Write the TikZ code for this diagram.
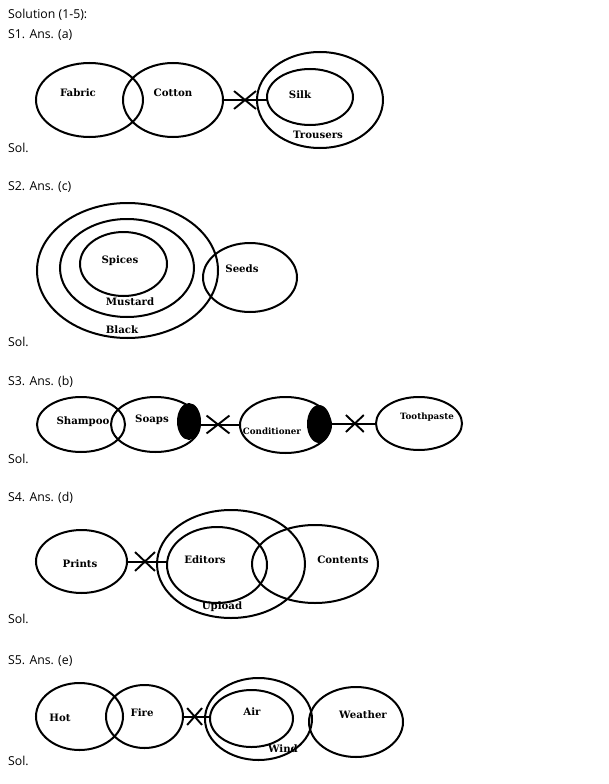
\documentclass[tikz,border=0pt]{standalone}
\usepackage{fontspec}
\setmainfont{Open Sans}
\newfontfamily\labfont{DejaVu Serif}
\usetikzlibrary{shapes.geometric,shapes.misc}
\tikzset{
  ell/.style={draw, ellipse, line width=2pt, inner sep=0pt, outer sep=0pt},
  blob/.style={fill=black, ellipse, inner sep=0pt, outer sep=0pt},
  conn/.style={line width=2pt},
  crossmark/.style={draw, cross out, line width=1.9pt, inner sep=0pt},
  lab/.style={inner sep=0pt, font=\labfont\fontsize{10.2}{12}\selectfont\bfseries},
  slab/.style={inner sep=0pt, font=\labfont\fontsize{8.7}{10}\selectfont\bfseries},
  txt/.style={anchor=west, inner sep=0pt, font=\fontsize{12.3}{14}\selectfont}
}
\newcommand{\vennE}[5]{\node[ell, minimum width=#4*2pt, minimum height=#5*2pt] (#1) at (#2,#3) {};}
\begin{document}
\begin{tikzpicture}[x=1pt,y=-1pt]
\useasboundingbox (0,0) rectangle (609,784);
% headings
\node[txt] (h0) at (8,15) {Solution (1-5):};
\node[txt] (h1) at (8,35) {S1. Ans. (a)};
\node[txt] (s1) at (8,148) {Sol.};
\node[txt] (h2) at (8,187) {S2. Ans. (c)};
\node[txt] (s2) at (8,342) {Sol.};
\node[txt] (h3) at (8,382) {S3. Ans. (b)};
\node[txt] (s3) at (8,459) {Sol.};
\node[txt] (h4) at (8,498) {S4. Ans. (d)};
\node[txt] (s4) at (8,619) {Sol.};
\node[txt] (h5) at (8,661) {S5. Ans. (e)};
\node[txt] (s5) at (8,761) {Sol.};
% S1
\vennE{fabric}{89.5}{100}{53.5}{37}
\vennE{cotton}{173}{100}{50}{37}
\vennE{trousers}{320}{100}{63}{48}
\vennE{silk}{310}{97}{43}{28}
\draw[conn] (cotton.east) -- node[crossmark, minimum width=20pt, minimum height=16pt] (x1) {} (cotton.east -| silk.west);
\node[lab] (tFabric) at (78,93) {Fabric};
\node[lab] (tCotton) at (173,93) {Cotton};
\node[lab] (tSilk) at (300,95) {Silk};
\node[lab] (tTrousers) at (318,135) {Trousers};
% S2
\vennE{black}{127.5}{270.5}{90.5}{67.5}
\vennE{mustard}{127}{268}{67}{49}
\vennE{spices}{123.5}{264}{43.5}{32}
\vennE{seeds}{250}{277.5}{47}{34.5}
\node[lab] (tSpices) at (120,261) {Spices};
\node[lab] (tSeeds) at (242,269) {Seeds};
\node[lab] (tMustard) at (130,302) {Mustard};
\node[lab] (tBlack) at (122,330) {Black};
% S3
\vennE{shampoo}{81}{424.5}{44}{27.5}
\vennE{soaps}{155.5}{424.5}{44.5}{27.5}
\vennE{cond}{285.5}{425}{45.5}{28}
\vennE{tooth}{419}{423.5}{43}{26.5}
\node[blob, minimum width=24pt, minimum height=37pt] (b1) at (189,421.5) {};
\node[blob, minimum width=24pt, minimum height=38pt] (b2) at (319,424) {};
\draw[conn] (soaps.east) -- node[crossmark, minimum width=21pt, minimum height=16pt, pos=0.45] (x2) {} (soaps.east -| cond.west);
\draw[conn] (b2.east |- tooth.west) -- node[crossmark, minimum width=16pt, minimum height=15pt, pos=0.53] (x3) {} (tooth.west);
\node[lab] (tShampoo) at (83,422) {Shampoo};
\node[lab] (tSoaps) at (152,420) {Soaps};
\node[slab] (tCond) at (272,431) {Conditioner};
\node[slab] (tTooth) at (427,417) {Toothpaste};
% S4
\vennE{prints}{81.5}{561.5}{45.5}{31.5}
\vennE{upload}{231}{564}{74}{54}
\vennE{editors}{217}{565}{50}{38}
\vennE{contents}{315}{564}{63}{39}
\draw[conn] (prints.east) -- node[crossmark, minimum width=18pt, minimum height=17pt, pos=0.45] (x4) {} (prints.east -| editors.west);
\node[lab] (tPrints) at (80,564) {Prints};
\node[lab] (tEditors) at (205,560) {Editors};
\node[lab] (tContents) at (343,560) {Contents};
\node[lab] (tUpload) at (222,607) {Upload};
% S5
\vennE{hot}{79.5}{716.5}{43.5}{33.5}
\vennE{fire}{144.5}{716.5}{38.5}{31.5}
\vennE{wind}{258.5}{719}{53.5}{41}
\vennE{air}{251.5}{718.5}{41.5}{28.5}
\vennE{weather}{356}{722}{47}{35}
\draw[conn] (fire.east) -- node[crossmark, minimum width=13pt, minimum height=15pt, pos=0.43] (x5) {} (fire.east -| air.west);
\node[lab] (tHot) at (60,718) {Hot};
\node[lab] (tFire) at (142,713) {Fire};
\node[lab] (tAir) at (252,712) {Air};
\node[lab] (tWeather) at (363,715) {Weather};
\node[lab] (tWind) at (283,749) {Wind};
\end{tikzpicture}
\end{document}
